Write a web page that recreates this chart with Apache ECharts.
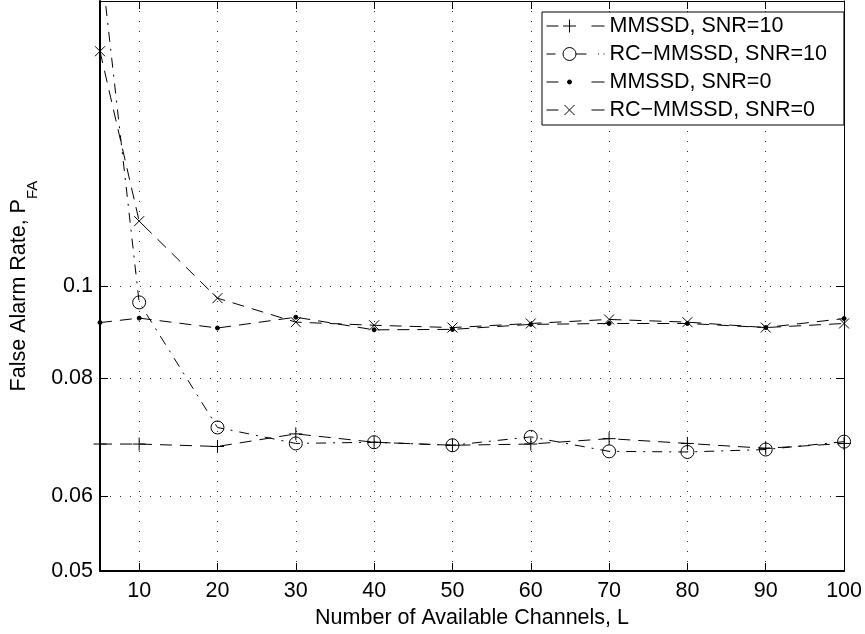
<!DOCTYPE html>
<html>
<head>
<meta charset="utf-8">
<script src="https://cdn.jsdelivr.net/npm/echarts@6/dist/echarts.min.js"></script>
<style>
  html, body { margin: 0; padding: 0; background: #fff; }
  #chart { width: 865px; height: 634px; }
</style>
</head>
<body>
<div id="chart"></div>
<script>
// Number of available channels L
const channels = [5, 10, 20, 30, 40, 50, 60, 70, 80, 90, 100];

// False alarm rate P_FA for each scheme
const mmssdSnr10 = [0.0681, 0.0681, 0.0677, 0.0698, 0.0684, 0.0679, 0.0681, 0.0690, 0.0682, 0.0674, 0.0682];
const rcMmssdSnr10 = [0.224, 0.0961, 0.0709, 0.0682, 0.0684, 0.0679, 0.0693, 0.0669, 0.0668, 0.0672, 0.0685];
const mmssdSnr0 = [0.0915, 0.0925, 0.0903, 0.0927, 0.0899, 0.0900, 0.0911, 0.0913, 0.0913, 0.0904, 0.0924];
const rcMmssdSnr0 = [0.177, 0.1171, 0.0971, 0.0916, 0.0909, 0.0904, 0.0913, 0.0922, 0.0916, 0.0904, 0.0913];

const seriesNames = ['MMSSD, SNR=10', 'RC\u2212MMSSD, SNR=10', 'MMSSD, SNR=0', 'RC\u2212MMSSD, SNR=0'];

// Tick positions
const xTicks = [10, 20, 30, 40, 50, 60, 70, 80, 90, 100];
const yTicks = [0.05, 0.06, 0.08, 0.1];

const FONT = 'Liberation Sans, Arial, Helvetica, sans-serif';
const X_MIN = 5, X_MAX = 100, Y_MIN = 0.05, Y_MAX = 0.2;

// marker shapes
const PLUS = 'path://M0,6.5L13,6.5M6.5,0L6.5,13';
const RING = 'path://M13,6.5A6.5,6.5,0,1,1,0,6.5A6.5,6.5,0,1,1,13,6.5Z';
const CROSS = 'path://M0,0L10,10M0,10L10,0';

// legend samples: dashes + marker, 58 x 14
const LEG_PLUS = 'path://M0,7L12,7M16.5,7L29.5,7M23,0.5L23,13.5M45,7L58,7';
const LEG_RING = 'path://M0,7L9,7M29.5,7A6.5,6.5,0,1,1,16.5,7A6.5,6.5,0,1,1,29.5,7ZM29.5,7L40,7M51.5,7L52.5,7M57,7L58,7';
const LEG_DOT = 'path://M0,7L12,7M25,7A2,2,0,1,1,21,7A2,2,0,1,1,25,7ZM45,7L58,7';
const LEG_CROSS = 'path://M0,7L12,7M18,2L28,12M18,12L28,2M45,7L58,7';

const DASH = [12, 8];
const DASH_DOT = [10, 7, 2, 7];

function pairs(ys) {
  return channels.map((x, i) => [x, ys[i]]);
}

function makeSeries(name, ys, symbol, size, fill, dash) {
  return {
    name: name,
    type: 'line',
    data: pairs(ys),
    symbol: symbol,
    symbolSize: size,
    showAllSymbol: true,
    clip: true,
    lineStyle: { color: '#000', width: 1, type: dash },
    itemStyle: { color: fill, borderColor: '#000', borderWidth: 1 },
    emphasis: { disabled: true },
    animation: false,
    z: 3
  };
}

const chart = echarts.init(document.getElementById('chart'), null, { renderer: 'canvas' });

const gridLine = { show: true, lineStyle: { color: '#333', width: 1, type: [1, 9] } };

chart.setOption({
  animation: false,
  backgroundColor: '#fff',
  textStyle: { fontFamily: FONT, color: '#000' },
  grid: { left: 100, right: 20, top: 1, bottom: 61, containLabel: false },
  legend: {
    orient: 'vertical',
    left: 542,
    top: 12,
    itemWidth: 58,
    itemHeight: 14,
    itemGap: 6,
    padding: [3, 17, 4, 4],
    borderColor: '#000',
    borderWidth: 1,
    borderRadius: 0,
    backgroundColor: '#fff',
    selectedMode: false,
    symbolKeepAspect: true,
    textStyle: { fontFamily: FONT, fontSize: 21.5, color: '#000', lineHeight: 22 },
    data: [
      { name: seriesNames[0], icon: LEG_PLUS, itemStyle: { color: '#000', borderColor: '#000', borderWidth: 1 } },
      { name: seriesNames[1], icon: LEG_RING, itemStyle: { color: 'rgba(0,0,0,0)', borderColor: '#000', borderWidth: 1 } },
      { name: seriesNames[2], icon: LEG_DOT, itemStyle: { color: '#000', borderColor: '#000', borderWidth: 1 } },
      { name: seriesNames[3], icon: LEG_CROSS, itemStyle: { color: '#000', borderColor: '#000', borderWidth: 1 } }
    ]
  },
  xAxis: [
    {
      type: 'value',
      min: X_MIN,
      max: X_MAX,
      position: 'bottom',
      name: 'Number of Available Channels, L',
      nameLocation: 'middle',
      nameGap: 34,
      nameTextStyle: { fontFamily: FONT, fontSize: 21.5, color: '#000' },
      axisLine: { show: true, onZero: false, lineStyle: { color: '#000', width: 2 } },
      axisTick: { show: true, inside: true, length: 8, customValues: xTicks, lineStyle: { color: '#000', width: 1 } },
      axisLabel: { show: true, customValues: xTicks, margin: 9, fontFamily: FONT, fontSize: 21.5, color: '#000' },
      splitLine: gridLine
    },
    {
      type: 'value',
      min: X_MIN,
      max: X_MAX,
      position: 'top',
      axisLine: { show: true, onZero: false, lineStyle: { color: '#000', width: 1 } },
      axisTick: { show: true, inside: true, length: 8, customValues: xTicks, lineStyle: { color: '#000', width: 1 } },
      axisLabel: { show: false },
      splitLine: { show: false }
    }
  ],
  yAxis: [
    {
      type: 'log',
      logBase: 10,
      min: Y_MIN,
      max: Y_MAX,
      position: 'left',
      name: '{a|False Alarm Rate, P}{b|FA}',
      nameLocation: 'middle',
      nameRotate: 90,
      nameGap: 58,
      nameTextStyle: {
        fontFamily: FONT,
        color: '#000',
        rich: {
          a: { fontFamily: FONT, fontSize: 21.5, color: '#000', lineHeight: 22, verticalAlign: 'top' },
          b: { fontFamily: FONT, fontSize: 15, color: '#000', lineHeight: 15, verticalAlign: 'top', padding: [17, 0, 0, 0] }
        }
      },
      axisLine: { show: true, onZero: false, lineStyle: { color: '#000', width: 2 } },
      axisTick: { show: true, inside: true, length: 8, customValues: yTicks, lineStyle: { color: '#000', width: 1 } },
      axisLabel: {
        show: true,
        customValues: yTicks,
        margin: 7,
        fontFamily: FONT,
        fontSize: 21.5,
        color: '#000',
        formatter: v => String(+Number(v).toPrecision(3))
      },
      splitLine: gridLine,
      minorTick: { show: false },
      minorSplitLine: { show: false }
    },
    {
      type: 'log',
      logBase: 10,
      min: Y_MIN,
      max: Y_MAX,
      position: 'right',
      axisLine: { show: true, onZero: false, lineStyle: { color: '#000', width: 1 } },
      axisTick: { show: true, inside: true, length: 8, customValues: yTicks, lineStyle: { color: '#000', width: 1 } },
      axisLabel: { show: false },
      splitLine: { show: false }
    }
  ],
  series: [
    makeSeries(seriesNames[0], mmssdSnr10, PLUS, 13, '#000', DASH),
    makeSeries(seriesNames[1], rcMmssdSnr10, RING, 13, 'rgba(0,0,0,0)', DASH_DOT),
    makeSeries(seriesNames[2], mmssdSnr0, 'circle', 4, '#000', DASH),
    makeSeries(seriesNames[3], rcMmssdSnr0, CROSS, 10, '#000', DASH)
  ]
});
</script>
</body>
</html>
